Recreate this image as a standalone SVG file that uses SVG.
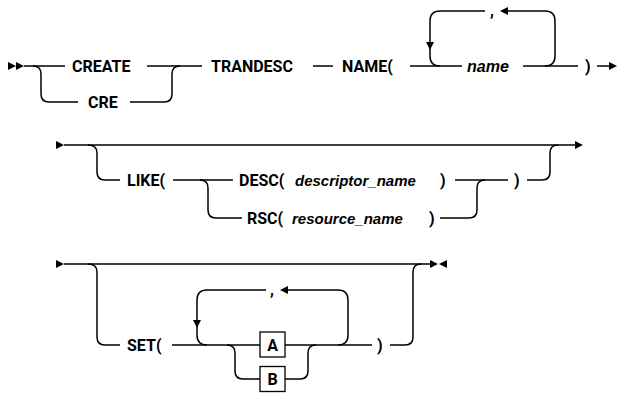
<svg xmlns="http://www.w3.org/2000/svg" width="619" height="394" viewBox="0 0 619 394">
<defs>
<style>
.ln{fill:none;stroke:#000;stroke-width:1.5}
.ah{fill:#000;stroke:none}
.kw{font-family:Roboto,"Liberation Sans",sans-serif;font-weight:bold;font-size:16px;fill:#000}
.var{font-family:"Liberation Sans",Arial,sans-serif;font-weight:bold;font-style:italic;font-size:15px;fill:#000}
.nm{font-size:16px}
.box{fill:#fff;stroke:#000;stroke-width:1.3}
</style>
</defs>
<rect width="619" height="394" fill="#fff"/>
<g id="connectors">
<!-- Row 1 -->
<path class="ah" d="M8,62 L16,66 L8,70 Z M16,62 L24,66 L16,70 Z"/>
<path class="ln" d="M24,66 H65"/>
<path class="ln" d="M33,66 Q41,66 41,74 V94 Q41,102 49,102 H78"/>
<path class="ln" d="M147,66 H202"/>
<path class="ln" d="M130,102 H164 Q172,102 172,94 V74 Q172,66 180,66"/>
<path class="ln" d="M313,66 H333"/>
<path class="ln" d="M410,66 H462"/>
<path class="ln" d="M523,66 H578"/>
<path class="ln" d="M485,11 H440 Q430,11 430,21 V56 Q430,66 440,66"/>
<path class="ah" d="M426,42 L434,42 L430,50 Z"/>
<path class="ah" d="M500,11 L508,7 L508,15 Z"/>
<path class="ln" d="M508,11 H545 Q555,11 555,21 V56 Q555,66 545,66"/>
<path class="ln" d="M597,66 H610"/>
<path class="ah" d="M609,62 L617,66 L609,70 Z"/>
<!-- Row 2 -->
<path class="ah" d="M56,141 L64,145 L56,149 Z"/>
<path class="ln" d="M64,145 H576"/>
<path class="ah" d="M575,141 L583,145 L575,149 Z"/>
<path class="ln" d="M88,145 Q97,145 97,153 V172 Q97,180 105,180 H120"/>
<path class="ln" d="M173,180 H233"/>
<path class="ln" d="M200,180 Q208,180 208,188 V210 Q208,218 216,218 H242"/>
<path class="ln" d="M455,180 H508"/>
<path class="ln" d="M527,180 H542 Q550,180 550,172 V153 Q550,145 558,145"/>
<path class="ln" d="M440,218 H469 Q477,218 477,210 V188 Q477,180 485,180"/>
<!-- Row 3 -->
<path class="ah" d="M56,260 L64,264 L56,268 Z"/>
<path class="ln" d="M64,264 H430"/>
<path class="ah" d="M430,260 L438,264 L430,268 Z M447,260 L439,264 L447,268 Z"/>
<path class="ln" d="M88,264 Q97,264 97,272 V337 Q97,345 105,345 H120"/>
<path class="ln" d="M172,345 H260"/>
<path class="ln" d="M266,290 H207 Q197,290 197,300 V335 Q197,345 207,345"/>
<path class="ah" d="M193,320 L201,320 L197,328 Z"/>
<path class="ah" d="M280,290 L288,286 L288,294 Z"/>
<path class="ln" d="M288,290 H338 Q348,290 348,300 V335 Q348,345 338,345"/>
<path class="ln" d="M285,345 H372"/>
<path class="ln" d="M227,345 Q235,345 235,353 V371 Q235,379 243,379 H260"/>
<path class="ln" d="M285,379 H300 Q308,379 308,371 V353 Q308,345 316,345"/>
<path class="ln" d="M390,345 H405 Q413,345 413,337 V272 Q413,264 421,264"/>
</g>
<g id="n-create"><text class="kw" x="72" y="71.8">CREATE</text></g>
<g id="n-cre"><text class="kw" x="88" y="107.8">CRE</text></g>
<g id="n-trandesc"><text class="kw" x="211" y="71.8">TRANDESC</text></g>
<g id="n-name-kw"><text class="kw" x="342" y="71.8">NAME(</text></g>
<g id="n-name"><text class="var nm" x="467" y="71.8">name</text></g>
<g id="n-comma1"><text class="kw" x="490" y="16">,</text></g>
<g id="n-close1"><text class="kw" x="585" y="71.8">)</text></g>
<g id="n-like"><text class="kw" x="127" y="185.8">LIKE(</text></g>
<g id="n-desc"><text class="kw" x="239" y="185.8">DESC(</text><text class="var" x="295" y="185.8">descriptor_name</text><text class="kw" x="440" y="185.8">)</text></g>
<g id="n-rsc"><text class="kw" x="247" y="223.8">RSC(</text><text class="var" x="292" y="223.8">resource_name</text><text class="kw" x="429" y="223.8">)</text></g>
<g id="n-close2"><text class="kw" x="514" y="185.8">)</text></g>
<g id="n-set"><text class="kw" x="127" y="350.8">SET(</text></g>
<g id="n-comma2"><text class="kw" x="270" y="295">,</text></g>
<g id="n-a"><rect class="box" x="260" y="332" width="25" height="25"/><text class="kw" x="272.5" y="350.5" text-anchor="middle">A</text></g>
<g id="n-b"><rect class="box" x="260" y="366.5" width="25" height="25"/><text class="kw" x="272.5" y="385" text-anchor="middle">B</text></g>
<g id="n-close3"><text class="kw" x="377" y="350.8">)</text></g>
</svg>
